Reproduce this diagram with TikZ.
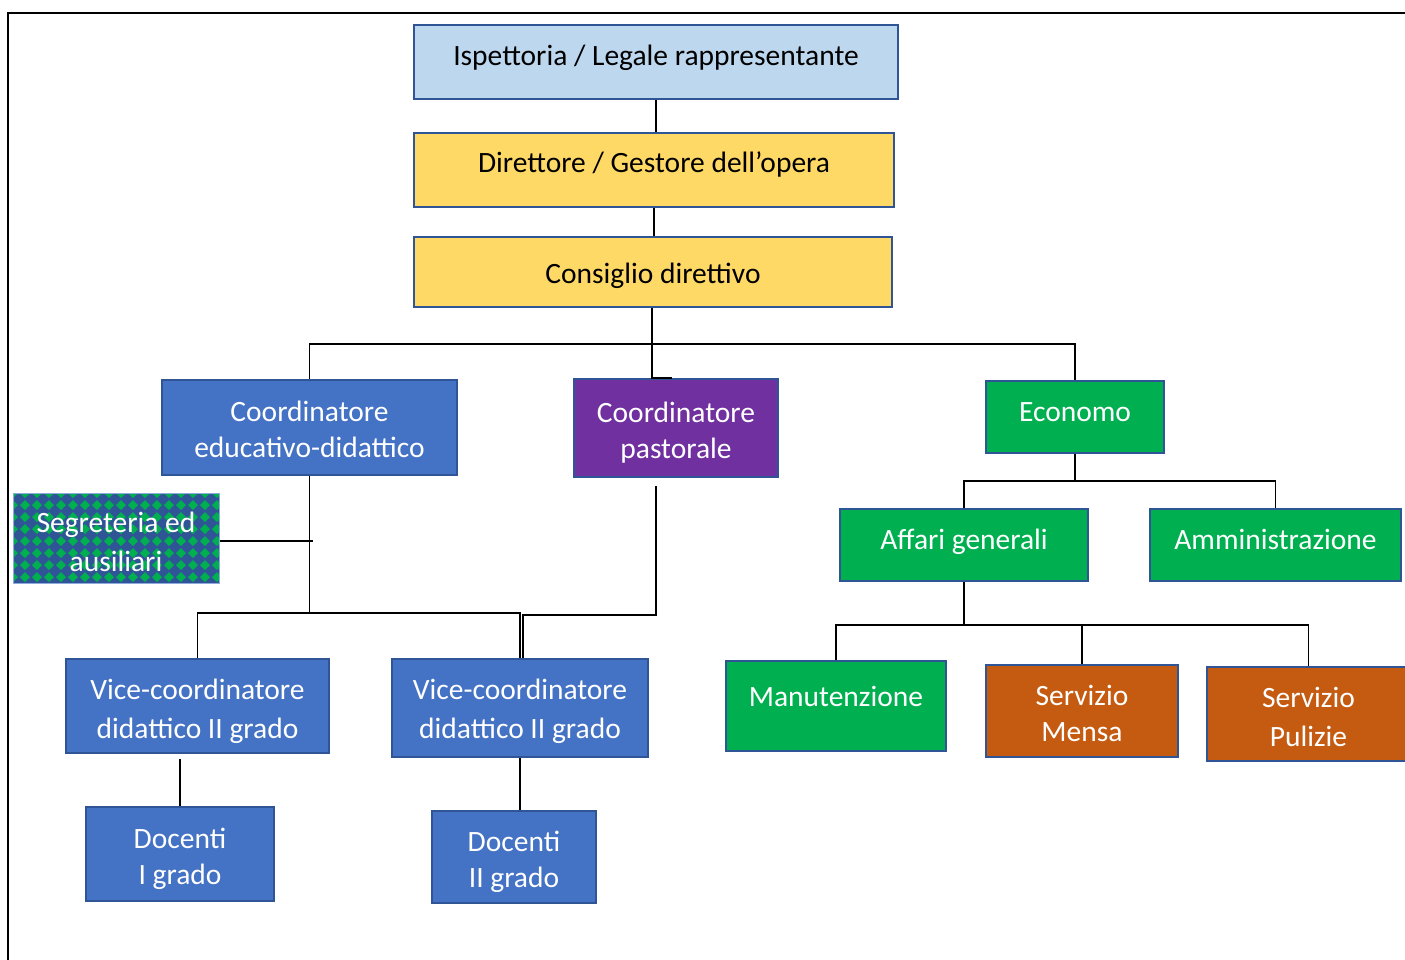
\documentclass[tikz,border=0pt]{standalone}
\usepackage{fontspec}
\setmainfont{Carlito}
\usetikzlibrary{calc}
\definecolor{bdr}{HTML}{2F5597}
\definecolor{lblue}{HTML}{BDD7EE}
\definecolor{yel}{HTML}{FFD966}
\definecolor{mblue}{HTML}{4472C4}
\definecolor{purp}{HTML}{7030A0}
\definecolor{grn}{HTML}{00B050}
\definecolor{orng}{HTML}{C55A11}
\definecolor{pblue}{HTML}{2F5597}
\definecolor{segbdr}{HTML}{8FAADC}
\newcommand{\rb}[2]{\raisebox{#1}[\height][\depth]{#2}}
\tikzset{
  box/.style={draw=bdr, line width=2pt, inner sep=0pt, align=center,
    font=\fontsize{29.5}{36}\selectfont, text=white},
  wide/.style={font=\fontsize{29.5}{39}\selectfont},
  conn/.style={draw=black, line width=1.2pt},
}
\begin{document}
\begin{tikzpicture}[x=1pt,y=-1pt]
\useasboundingbox (0,0) rectangle (1405,960);
\fill[white] (0,0) rectangle (1405,960);
\draw[line width=1.6pt] (8,975) -- (8,13) -- (1420,13);

% boxes
\node[box, fill=lblue, text=black, minimum width=484pt, minimum height=74pt] (isp) at (656,62) {\rb{4pt}{Ispettoria / Legale rappresentante}};
\node[box, fill=yel, text=black, minimum width=480pt, minimum height=74pt] (dir) at (654,170) {\rb{6pt}{Direttore / Gestore dell’opera}};
\node[box, fill=yel, text=black, minimum width=478pt, minimum height=70pt] (con) at (653,272) {\rb{-4pt}{Consiglio direttivo}};
\node[box, fill=mblue, minimum width=295pt, minimum height=95pt] (ced) at (309.5,427.5) {\rb{-2pt}{Coordinatore}\\\rb{-2pt}{educativo-didattico}};
\node[box, fill=purp, minimum width=204pt, minimum height=98pt] (cpa) at (676,428) {\rb{-4.5pt}{Coordinatore}\\\rb{-4.5pt}{pastorale}};
\node[box, fill=grn, minimum width=178pt, minimum height=72pt] (eco) at (1075,417) {\rb{5pt}{Economo}};
\node[box, wide, draw=segbdr, line width=1pt, fill=pblue, minimum width=206pt, minimum height=90pt,
  path picture={
    \coordinate (pc) at (path picture bounding box.center);
    \foreach \i in {0,...,18}{
      \foreach \j in {0,...,8}{
        \fill[grn] ($(pc)+(\i*12pt-103pt-5pt, 45pt-\j*12pt)$) -- ++(5pt,5pt) -- ++(5pt,-5pt) -- ++(-5pt,-5pt) -- cycle;
      }
    }
  }] (seg) at (116,538) {\rb{-4pt}{Segreteria ed}\\\rb{-4pt}{ausiliari}};
\node[box, fill=grn, minimum width=248pt, minimum height=72pt] (aff) at (964,545) {\rb{3pt}{Affari generali}};
\node[box, fill=grn, minimum width=251pt, minimum height=72pt] (amm) at (1275.5,545) {\rb{6pt}{Amministrazione}};
\node[box, wide, fill=mblue, minimum width=263pt, minimum height=94pt] (vl) at (197.5,706) {\rb{-5pt}{Vice-coordinatore}\\\rb{-5pt}{didattico II grado}};
\node[box, wide, fill=mblue, minimum width=256pt, minimum height=98pt] (vr) at (520,708) {\rb{-3pt}{Vice-coordinatore}\\\rb{-3pt}{didattico II grado}};
\node[box, fill=grn, minimum width=220pt, minimum height=90pt] (man) at (836,706) {\rb{10pt}{Manutenzione}};
\node[box, fill=orng, minimum width=192pt, minimum height=92pt] (mens) at (1082,711) {\rb{-2pt}{Servizio}\\\rb{-2pt}{Mensa}};
\node[box, wide, fill=orng, minimum width=203pt, minimum height=94pt] (pul) at (1308.5,714) {\rb{-3pt}{Servizio}\\\rb{-3pt}{Pulizie}};
\node[box, fill=mblue, minimum width=188pt, minimum height=94pt] (d1) at (180,854) {\rb{-5pt}{Docenti}\\\rb{-5pt}{I grado}};
\node[box, fill=mblue, minimum width=164pt, minimum height=92pt] (d2) at (514,857) {\rb{-5pt}{Docenti}\\\rb{-5pt}{II grado}};

% connectors
\draw[conn] (isp.south) -- (isp.south |- dir.north);
\draw[conn] (dir.south) -- (dir.south |- con.north);
\coordinate (b1) at (652,344);
\draw[line width=2.4pt] (con.south -| b1) -- (b1);
\draw[conn] (ced.north) |- (b1) -| (eco.north);
\draw[conn] (b1) |- ([xshift=-4pt]cpa.north);
\coordinate (b2) at (309,613);
\draw[conn] (ced.south) -- (ced.south |- b2);
\draw[conn] (vl.north) |- (b2) -| (vr.north);
\coordinate (s1) at (313,541);
\draw[conn] (seg.east |- s1) -- (s1);
\coordinate (p1) at (656,486);
\coordinate (p2) at (523,615);
\draw[conn] (p1) |- (p2) -- (p2 |- vr.north);
\coordinate (q1) at (180,759);
\draw[conn] (q1) -- (d1.north);
\draw[conn] (vr.south) -- (vr.south |- d2.north);
\coordinate (b4) at (1075,481);
\draw[conn] (eco.south) -- (b4);
\draw[conn] (aff.north) |- (b4) -| (amm.north);
\coordinate (b5) at (964,625);
\draw[conn] (aff.south) -- (b5);
\draw[conn] (man.north) |- (b5) -| (pul.north);
\draw[conn] (mens.north) -- (mens.north |- b5);
\end{tikzpicture}
\end{document}
